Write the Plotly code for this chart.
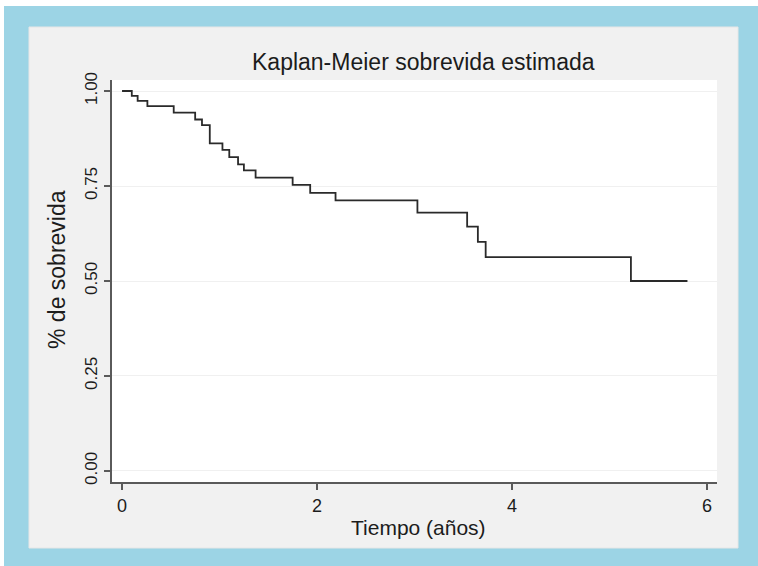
import plotly.graph_objects as go

# Kaplan-Meier step data (time in years, survival estimate after each event)
times = [0, 0.10, 0.16, 0.26, 0.53, 0.75, 0.82, 0.90, 1.03, 1.10, 1.19, 1.25,
         1.37, 1.75, 1.93, 2.19, 3.03, 3.54, 3.65, 3.73, 5.22, 5.80]
survival = [1.00, 0.987, 0.974, 0.960, 0.943, 0.925, 0.910, 0.862, 0.845, 0.826,
            0.807, 0.791, 0.772, 0.753, 0.732, 0.712, 0.680, 0.643, 0.603, 0.563,
            0.500, 0.500]

x_ticks = [0, 2, 4, 6]
y_ticks = [0, 0.25, 0.5, 0.75, 1.0]
y_tick_labels = ["0.00", "0.25", "0.50", "0.75", "1.00"]

title_text = "Kaplan-Meier sobrevida estimada"
x_title = "Tiempo (años)"
y_title = "% de sobrevida"

W, H = 758, 566
L, R, T, B = 112, 717, 80, 482  # plot area pixels
pw, ph = R - L, B - T


def px(x):
    return (x - L) / pw


def py(y):
    return (B - y) / ph


FONT = "Liberation Sans, Arial, sans-serif"
TXT = "#1c1c1c"
AX = "#5a5a5a"

fig = go.Figure()
fig.add_trace(go.Scatter(
    x=times, y=survival, mode="lines", line_shape="hv",
    line=dict(color="#2a2a2a", width=1.8), hoverinfo="skip", showlegend=False))

shapes = [
    dict(type="rect", xref="paper", yref="paper", x0=px(4), x1=px(W + 20),
         y0=py(H + 20), y1=py(6), fillcolor="#9cd4e5", line_width=0, layer="below"),
    dict(type="rect", xref="paper", yref="paper", x0=px(29), x1=px(738),
         y0=py(548), y1=py(27), fillcolor="#f1f1f1", line=dict(color="#e6e6e6", width=1),
         layer="below"),
    dict(type="rect", xref="paper", yref="paper", x0=0, x1=1, y0=0, y1=1,
         fillcolor="#ffffff", line_width=0, layer="below"),
]

annotations = [
    dict(text=title_text, xref="paper", yref="paper", x=px(423), y=py(62),
         xanchor="center", yanchor="middle", showarrow=False,
         font=dict(family=FONT, size=23, color=TXT)),
    dict(text=x_title, xref="paper", yref="paper", x=px(418), y=py(527),
         xanchor="center", yanchor="middle", showarrow=False,
         font=dict(family=FONT, size=21, color=TXT)),
    dict(text=y_title, xref="paper", yref="paper", x=px(57), y=py(270),
         xanchor="center", yanchor="middle", showarrow=False, textangle=-90,
         font=dict(family=FONT, size=23, color=TXT)),
]

fig.update_layout(
    width=W, height=H,
    margin=dict(l=L, r=W - R, t=T, b=H - B, pad=0),
    paper_bgcolor="#ffffff", plot_bgcolor="#ffffff",
    shapes=shapes, annotations=annotations,
    xaxis=dict(range=[-0.103, 6.103], tickvals=x_ticks, ticks="outside",
               ticklen=6, tickwidth=1.5, tickcolor=AX, showline=True,
               linecolor=AX, linewidth=1.8, showgrid=False, zeroline=False,
               tickfont=dict(family=FONT, size=18, color=TXT), fixedrange=True),
    yaxis=dict(range=[-0.029, 1.029], tickvals=y_ticks, ticktext=y_tick_labels,
               ticks="outside", ticklen=6, tickwidth=1.5, tickcolor=AX,
               showline=True, linecolor=AX, linewidth=1.8, showgrid=True,
               gridcolor="#f0f0f0", gridwidth=1, zeroline=False, tickangle=-90,
               tickfont=dict(family=FONT, size=17, color=TXT), fixedrange=True),
)

fig.write_html("out.html", config={"displayModeBar": False},
               post_script="document.body.style.margin='0';document.body.style.overflow='hidden';")
